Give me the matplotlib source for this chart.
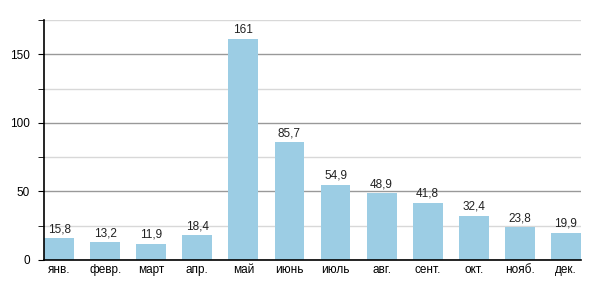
import matplotlib
matplotlib.use("Agg")
import matplotlib.pyplot as plt
from matplotlib.ticker import MultipleLocator

months = ["янв.", "февр.", "март", "апр.", "май", "июнь", "июль", "авг.", "сент.", "окт.", "нояб.", "дек."]
values = [15.8, 13.2, 11.9, 18.4, 161, 85.7, 54.9, 48.9, 41.8, 32.4, 23.8, 19.9]
labels = ["15,8", "13,2", "11,9", "18,4", "161", "85,7", "54,9", "48,9", "41,8", "32,4", "23,8", "19,9"]

plt.rcParams['font.family'] = ['Liberation Sans', 'DejaVu Sans']

fig = plt.figure(figsize=(6, 3), dpi=100)
ax = fig.add_axes([44/600, 40/300, 537/600, 240/300])

x = list(range(len(months)))
bars = ax.bar(x, values, width=0.65, color="#9ccde4", zorder=3)

ax.set_xlim(-0.33, 11.33)
ax.set_ylim(0, 175)
ax.yaxis.set_major_locator(MultipleLocator(50))
ax.yaxis.set_minor_locator(MultipleLocator(25))
ax.grid(axis='y', which='major', color="#999999", linewidth=1, zorder=0)
ax.grid(axis='y', which='minor', color="#d8d8d8", linewidth=1, zorder=0)

for sp in ['top', 'right']:
    ax.spines[sp].set_visible(False)
for sp in ['left', 'bottom']:
    ax.spines[sp].set_color('black')
    ax.spines[sp].set_linewidth(1.2)
    ax.spines[sp].set_zorder(4)

ax.set_xticks(x)
ax.set_xticklabels(months, fontsize=8.5)
ax.tick_params(axis='x', length=0, pad=3)
ax.tick_params(axis='y', which='major', length=4, labelsize=8.5, pad=6)
ax.tick_params(axis='y', which='minor', length=4)

for xi, v, lab in zip(x, values, labels):
    ax.text(xi, v + 2, lab, ha='center', va='bottom', fontsize=8.5, color="#222222")

fig.savefig("out.png", dpi=100)
